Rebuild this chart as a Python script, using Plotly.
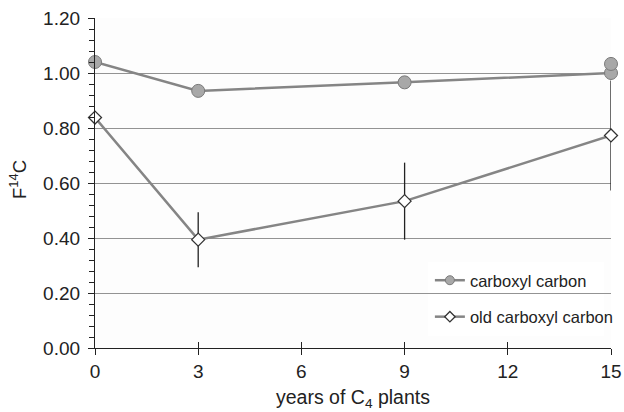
import plotly.graph_objects as go

# data
years_carboxyl = [0, 3, 9, 15, 15]
f14c_carboxyl = [1.04, 0.935, 0.966, 1.00, 1.033]

years_old = [0, 3, 9, 15]
f14c_old = [0.838, 0.394, 0.534, 0.773]
err_old = [0.0, 0.10, 0.14, 0.20]

x_ticks = [0, 3, 6, 9, 12, 15]
y_ticks = [0.0, 0.2, 0.4, 0.6, 0.8, 1.0, 1.2]
y_ticklabels = ["0.00", "0.20", "0.40", "0.60", "0.80", "1.00", "1.20"]

series_names = ["carboxyl carbon", "old carboxyl carbon"]

FONT = "Liberation Sans, Arial, Helvetica, sans-serif"
LINE = "#858585"
CIRCLE = dict(symbol="circle", color="#a8a8a8", line=dict(color="#7a7a7a", width=1))
DIAMOND = dict(symbol="diamond", color="white", line=dict(color="#333333", width=1.3))

fig = go.Figure()

fig.add_trace(go.Scatter(
    x=years_carboxyl, y=f14c_carboxyl, name=series_names[0],
    mode="lines+markers", showlegend=False,
    line=dict(color=LINE, width=2.5),
    marker=dict(size=13, **CIRCLE),
    cliponaxis=False,
))

fig.add_trace(go.Scatter(
    x=years_old, y=f14c_old, name=series_names[1],
    mode="lines+markers", showlegend=False,
    line=dict(color=LINE, width=2.5),
    marker=dict(size=10, **DIAMOND),
    error_y=dict(type="data", array=err_old, visible=True,
                 color="#222222", thickness=1.3, width=0),
    cliponaxis=False,
))

# legend entries (smaller symbols, as in the reference)
fig.add_trace(go.Scatter(x=[None], y=[None], name=series_names[0],
                         mode="lines+markers", legendgroup="a",
                         line=dict(color=LINE, width=2.5),
                         marker=dict(size=9, **CIRCLE)))
fig.add_trace(go.Scatter(x=[None], y=[None], name=series_names[1],
                         mode="lines+markers", legendgroup="b",
                         line=dict(color=LINE, width=2.5),
                         marker=dict(size=8, **DIAMOND)))

# overlay axis for the inward half of the crossing x ticks
fig.add_trace(go.Scatter(x=[0], y=[0], xaxis="x2", mode="markers",
                         marker=dict(opacity=0), showlegend=False,
                         hoverinfo="skip"))

fig.update_layout(
    width=624, height=412,
    margin=dict(l=95, r=13, t=18, b=64, autoexpand=False),
    paper_bgcolor="white",
    plot_bgcolor="#fdfdfd",
    font=dict(family=FONT, color="#222222", size=19),
    showlegend=True,
    legend=dict(
        x=0.649, y=0.2576, xanchor="left", yanchor="top",
        bgcolor="rgba(0,0,0,0)",
        font=dict(size=16.5, family=FONT, color="#222222"),
        traceorder="grouped", tracegroupgap=12,
        itemwidth=30,
    ),
    xaxis=dict(
        range=[0, 15], tickvals=x_ticks, automargin=False,
        ticks="outside", ticklen=6, tickwidth=1.2, tickcolor="#222222",
        showline=True, linecolor="#222222", linewidth=1.2,
        showgrid=False, zeroline=False,
        tickfont=dict(size=19),
    ),
    xaxis2=dict(
        range=[0, 15], tickvals=x_ticks, overlaying="x", anchor="y",
        side="bottom", ticks="inside", ticklen=6, tickwidth=1.2,
        tickcolor="#222222", showticklabels=False, showgrid=False,
        zeroline=False, showline=False, automargin=False,
    ),
    yaxis=dict(
        range=[0, 1.2], tickvals=y_ticks, ticktext=y_ticklabels,
        automargin=False, ticklabelstandoff=4,
        ticks="outside", ticklen=6, tickwidth=1.2, tickcolor="#222222",
        minor=dict(dtick=0.04, tick0=0, ticks="outside", ticklen=5,
                   tickwidth=1.1, tickcolor="#222222", showgrid=False),
        showline=True, linecolor="#222222", linewidth=1.2,
        showgrid=True, gridcolor="#939393", gridwidth=1.3,
        zeroline=False,
        tickfont=dict(size=19),
    ),
    annotations=[
        dict(text="years of C<sub>4</sub> plants", xref="paper", yref="paper",
             x=0.5, y=-(398 - 348) / 330, xanchor="center", yanchor="middle",
             showarrow=False, font=dict(size=19.5, family=FONT, color="#222222")),
        dict(text="F<sup>14</sup>C", xref="paper", yref="paper",
             x=(18 - 95) / 516, y=(348 - 180) / 330, xanchor="center",
             yanchor="middle", textangle=-90, showarrow=False,
             font=dict(size=18.5, family=FONT, color="#222222")),
    ],
    shapes=[dict(type="rect", xref="paper", yref="paper",
                 x0=(428 - 95) / 516, x1=(604 - 95) / 516,
                 y0=(348 - 336) / 330, y1=(348 - 262) / 330,
                 fillcolor="white", line=dict(width=0), layer="between")],
)

fig.write_html("out.html", config={"displayModeBar": False},
               post_script="document.body.style.margin='0';document.body.style.overflow='hidden';")
